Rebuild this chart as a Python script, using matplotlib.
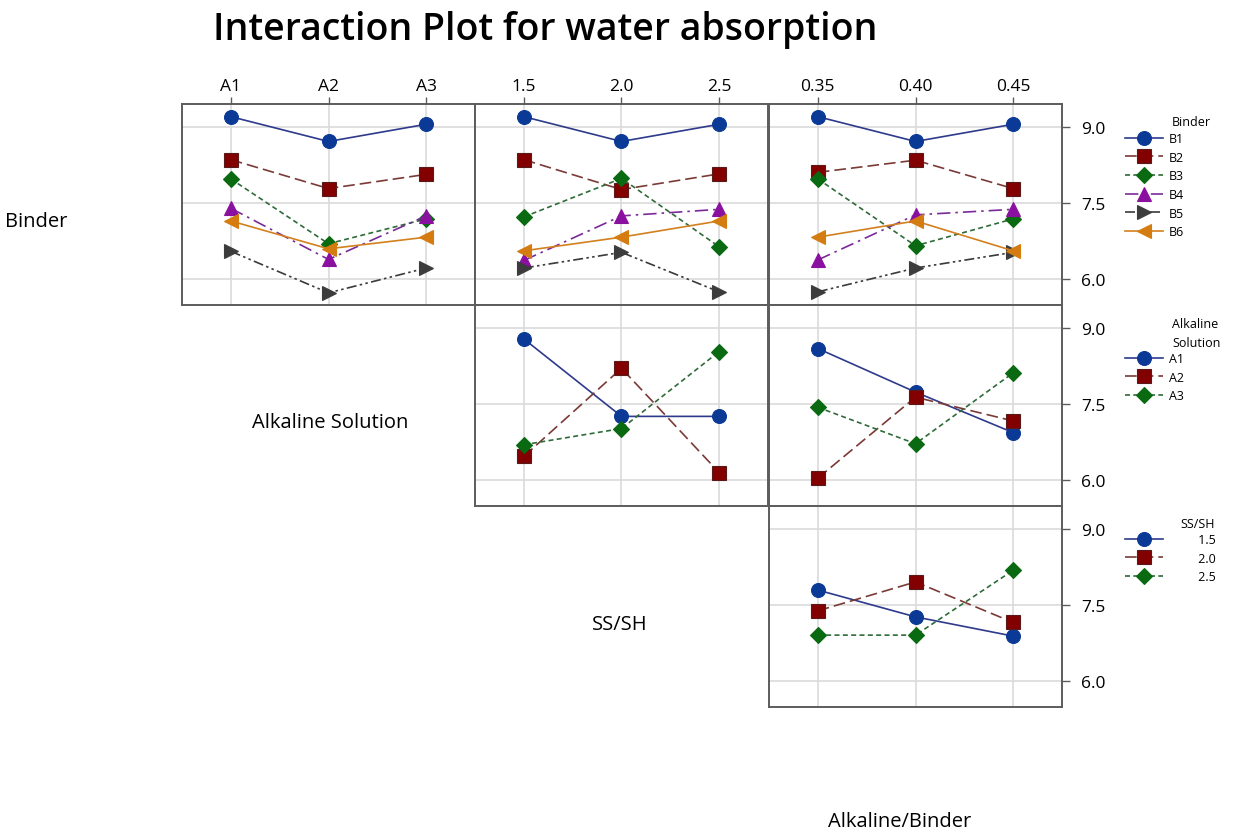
import numpy as np
import matplotlib
matplotlib.use("Agg")
import matplotlib.pyplot as plt

plt.rcParams['font.family'] = ['Open Sans', 'DejaVu Sans']

# factor levels
binder_levels = ['B1', 'B2', 'B3', 'B4', 'B5', 'B6']
alk_levels = ['A1', 'A2', 'A3']
ss_levels = ['1.5', '2.0', '2.5']
ab_levels = ['0.35', '0.40', '0.45']

# mean water absorption, one row per trace level
binder_vs_alk = [[9.20, 8.71, 9.05],
                 [8.35, 7.78, 8.06],
                 [7.97, 6.69, 7.18],
                 [7.39, 6.38, 7.24],
                 [6.54, 5.72, 6.21],
                 [7.14, 6.59, 6.82]]
binder_vs_ss = [[9.20, 8.71, 9.05],
                [8.35, 7.76, 8.07],
                [7.22, 7.98, 6.63],
                [6.36, 7.24, 7.37],
                [6.21, 6.52, 5.74],
                [6.55, 6.82, 7.14]]
binder_vs_ab = [[9.20, 8.71, 9.05],
                [8.10, 8.34, 7.78],
                [7.97, 6.65, 7.18],
                [6.37, 7.26, 7.37],
                [5.74, 6.21, 6.52],
                [6.82, 7.14, 6.55]]
alk_vs_ss = [[8.78, 7.25, 7.25],
             [6.46, 8.20, 6.14],
             [6.69, 7.01, 8.53]]
alk_vs_ab = [[8.59, 7.73, 6.93],
             [6.03, 7.63, 7.16],
             [7.43, 6.71, 8.11]]
ss_vs_ab = [[7.79, 7.26, 6.88],
            [7.38, 7.95, 7.15],
            [6.90, 6.90, 8.18]]

y_ticks = [6.0, 7.5, 9.0]

styles = [
    dict(marker='o', mfc='#0b3a96', mec='#0b3a96', color='#2e3a8c', ls='-', ms=10),
    dict(marker='s', mfc='#820000', mec='#5a1a1a', color='#7a3a36', ls=(0, (7, 3)), ms=9.5),
    dict(marker='D', mfc='#0a6a12', mec='#0a6a12', color='#2f6b38', ls=(0, (3, 2)), ms=8),
    dict(marker='^', mfc='#8a10a0', mec='#8a10a0', color='#7a2a98', ls=(0, (8, 3, 1.5, 3)), ms=10.5),
    dict(marker='>', mfc='#3c3c3c', mec='#3c3c3c', color='#3a3a3a', ls=(0, (6, 2, 1.5, 2, 1.5, 2)), ms=10.5),
    dict(marker='<', mfc='#d47c10', mec='#d47c10', color='#d3801f', ls='-', ms=10.5),
]

fig = plt.figure(figsize=(12.34, 8.37), dpi=100)

col_left = [182 / 1234, 475 / 1234, 769 / 1234]
col_w = 293 / 1234
row_bottom = [1 - 306 / 837, 1 - 507 / 837, 1 - 708 / 837]
row_h = 201 / 837


def make_panel(row, col, data, labels, top_labels=None):
    ax = fig.add_axes([col_left[col], row_bottom[row], col_w, row_h])
    x = np.arange(3)
    handles = []
    for i, vals in enumerate(data):
        st = styles[i]
        h, = ax.plot(x, vals, linestyle=st['ls'], color=st['color'], lw=1.2,
                     marker=st['marker'], ms=st['ms'], mfc=st['mfc'], mec=st['mec'],
                     mew=0.8, label=labels[i], zorder=3)
        handles.append(h)
    ax.set_xlim(-0.5, 2.5)
    ax.set_ylim(5.48, 9.45)
    ax.set_xticks(x)
    ax.set_yticks(y_ticks)
    ax.grid(True, color='#dadada', lw=1.2, zorder=0)
    for s in ax.spines.values():
        s.set_color('#5c5c5c')
        s.set_linewidth(1.4)
    ax.tick_params(axis='x', bottom=False, labelbottom=False, top=top_labels is not None,
                   labeltop=top_labels is not None, length=5, width=1, color='#5c5c5c',
                   labelsize=12.5, pad=2)
    if top_labels is not None:
        ax.set_xticklabels(top_labels)
    ax.tick_params(axis='y', left=False, labelleft=False, right=(col == 2),
                   labelright=(col == 2), length=6, width=1, color='#5c5c5c',
                   labelsize=12.5, pad=8)
    ax.yaxis.set_major_formatter(matplotlib.ticker.FormatStrFormatter('%.1f'))
    return ax, handles


make_panel(0, 0, binder_vs_alk, binder_levels, alk_levels)
make_panel(0, 1, binder_vs_ss, binder_levels, ss_levels)
ax, h1 = make_panel(0, 2, binder_vs_ab, binder_levels, ab_levels)
make_panel(1, 1, alk_vs_ss, alk_levels)
ax, h2 = make_panel(1, 2, alk_vs_ab, alk_levels)
ax, h3 = make_panel(2, 2, ss_vs_ab, ['         ' + s for s in ss_levels])


def add_legend(handles, top_px):
    leg = fig.legend(handles=handles, loc='upper left', frameon=False,
                     bbox_to_anchor=(1125 / 1234, 1 - top_px / 837),
                     fontsize=9, handlelength=3.0, handletextpad=0.5,
                     labelspacing=0.45, borderpad=0, borderaxespad=0)
    return leg


fig.text(1172 / 1234, 1 - 123 / 837, 'Binder', fontsize=9, va='center', ha='left')
add_legend(h1, 133)
fig.text(1172 / 1234, 1 - 324 / 837, 'Alkaline', fontsize=9, va='center', ha='left')
fig.text(1172 / 1234, 1 - 344 / 837, 'Solution', fontsize=9, va='center', ha='left')
add_legend(h2, 353)
fig.text(1215 / 1234, 1 - 524 / 837, 'SS/SH', fontsize=9, va='center', ha='right')
add_legend(h3, 534)

# row / column factor names
fig.text(5 / 1234, 1 - 222 / 837, 'Binder', fontsize=14.5, va='center', ha='left')
fig.text(330 / 1234, 1 - 423 / 837, 'Alkaline Solution', fontsize=14.5, va='center', ha='center')
fig.text(620 / 1234, 1 - 625 / 837, 'SS/SH', fontsize=14.5, va='center', ha='center')
fig.text(900 / 1234, 1 - 822 / 837, 'Alkaline/Binder', fontsize=14.5, va='center', ha='center')

fig.text(545 / 1234, 1 - 30 / 837, 'Interaction Plot for water absorption',
         fontsize=27, fontweight='semibold', va='center', ha='center')

fig.savefig('out.png', dpi=100)
